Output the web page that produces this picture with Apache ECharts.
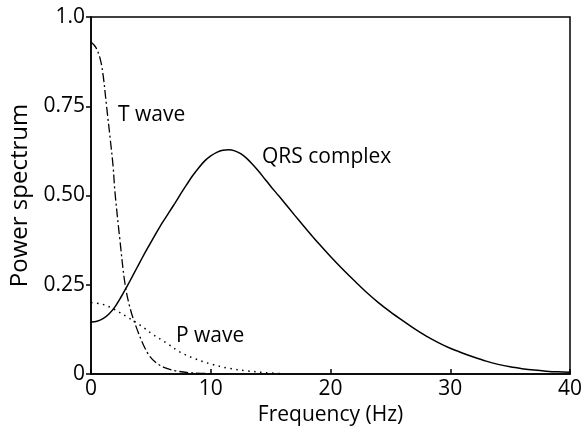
<!DOCTYPE html>
<html>
<head>
<meta charset="utf-8">
<script src="https://cdn.jsdelivr.net/npm/echarts@6/dist/echarts.min.js"></script>
<style>html,body{margin:0;padding:0;background:#fff}#c{width:584px;height:427px}</style>
</head>
<body>
<div id="c"></div>
<script>
// Data
const qrsFreq = [0, 0.5, 1, 1.5, 2, 2.5, 3, 3.5, 4, 4.5, 5, 5.5, 6, 6.5, 7, 7.5, 8, 8.5, 9, 9.5, 10, 10.5, 11, 11.5, 12, 12.5, 13, 13.5, 14, 14.5, 15, 15.5, 16, 17, 18, 19, 20, 21, 22, 23, 24, 25, 26, 27, 28, 29, 30, 31, 32, 33, 34, 35, 36, 37, 38, 39, 40];
const qrsPower = [0.146, 0.148, 0.155, 0.168, 0.188, 0.215, 0.245, 0.276, 0.308, 0.339, 0.369, 0.398, 0.426, 0.452, 0.478, 0.505, 0.531, 0.556, 0.578, 0.597, 0.611, 0.621, 0.627, 0.628, 0.625, 0.617, 0.604, 0.587, 0.568, 0.547, 0.526, 0.506, 0.486, 0.445, 0.405, 0.366, 0.329, 0.294, 0.261, 0.229, 0.2, 0.174, 0.15, 0.127, 0.106, 0.088, 0.072, 0.059, 0.047, 0.036, 0.027, 0.02, 0.015, 0.011, 0.008, 0.006, 0.005];
const tFreq = [0, 0.4, 0.75, 1.0, 1.3, 1.6, 1.85, 2.0, 2.4, 2.85, 3.3, 3.85, 4.4, 4.9, 5.5, 6.2, 7.2, 8.5, 10];
const tPower = [0.93, 0.915, 0.885, 0.84, 0.75, 0.66, 0.58, 0.51, 0.38, 0.25, 0.18, 0.125, 0.08, 0.05, 0.03, 0.017, 0.008, 0.003, 0.001];
const pFreq = [0, 1, 2, 3, 4.1, 5.2, 6.3, 7.4, 8.5, 10, 11.5, 13, 14.5, 16];
const pPower = [0.2, 0.195, 0.18, 0.16, 0.137, 0.11, 0.087, 0.062, 0.045, 0.028, 0.016, 0.009, 0.004, 0.001];
const xTicks = [0, 10, 20, 30, 40];
const yTicks = [0, 0.25, 0.5, 0.75, 1.0];
const labels = [
  {text: 'T wave', x: 118, y: 115},
  {text: 'QRS complex', x: 262, y: 157},
  {text: 'P wave', x: 176, y: 336}
];

const zip = (a, b) => a.map((v, i) => [v, b[i]]);
const FONT = '"Open Sans", sans-serif';
const chart = echarts.init(document.getElementById('c'), null, {renderer: 'canvas'});
chart.setOption({
  animation: false,
  backgroundColor: '#fff',
  grid: {left: 91, top: 17, right: 14, bottom: 53, containLabel: false, outerBoundsMode: 'none',
         show: true, borderColor: '#000', borderWidth: 1.5, backgroundColor: 'transparent'},
  xAxis: {
    type: 'value', min: 0, max: 40, interval: 10,
    name: 'Frequency (Hz)', nameLocation: 'middle', nameGap: 25,
    nameTextStyle: {fontFamily: FONT, fontSize: 21, color: '#000'},
    axisLine: {lineStyle: {color: '#000', width: 1.5}},
    axisTick: {inside: true, length: 5, lineStyle: {color: '#000', width: 1.5}},
    axisLabel: {fontFamily: FONT, fontSize: 21, color: '#000', margin: 5,
      formatter: v => xTicks.includes(v) ? String(v) : ''},
    splitLine: {show: false}
  },
  yAxis: {
    type: 'value', min: 0, max: 1, interval: 0.25,
    name: 'Power spectrum', nameLocation: 'middle', nameGap: 52, nameRotate: 90,
    nameTextStyle: {fontFamily: FONT, fontSize: 24, color: '#000'},
    axisLine: {lineStyle: {color: '#000', width: 1.5}},
    axisTick: {inside: false, length: 5, lineStyle: {color: '#000', width: 1.5}},
    axisLabel: {fontFamily: FONT, fontSize: 21, color: '#000', margin: 6,
      formatter: v => v === 0 ? '0' : (v === 1 ? '1.0' : v.toFixed(2))},
    splitLine: {show: false}
  },
  series: [
    {type: 'line', data: zip(qrsFreq, qrsPower), smooth: 0.3, showSymbol: false,
     lineStyle: {color: '#000', width: 1.5}},
    {type: 'line', data: zip(tFreq, tPower), smooth: 0.35, showSymbol: false,
     lineStyle: {color: '#000', width: 1.3, type: [9, 3, 2, 3]}},
    {type: 'line', data: zip(pFreq, pPower), smooth: 0.35, showSymbol: false,
     lineStyle: {color: '#000', width: 1.5, type: [1.5, 4.5]}}
  ],
  graphic: labels.map(l => ({
    type: 'text', x: l.x, y: l.y,
    style: {text: l.text, fontFamily: FONT, fontSize: 21, fill: '#000', verticalAlign: 'middle'}
  }))
});
</script>
</body>
</html>
